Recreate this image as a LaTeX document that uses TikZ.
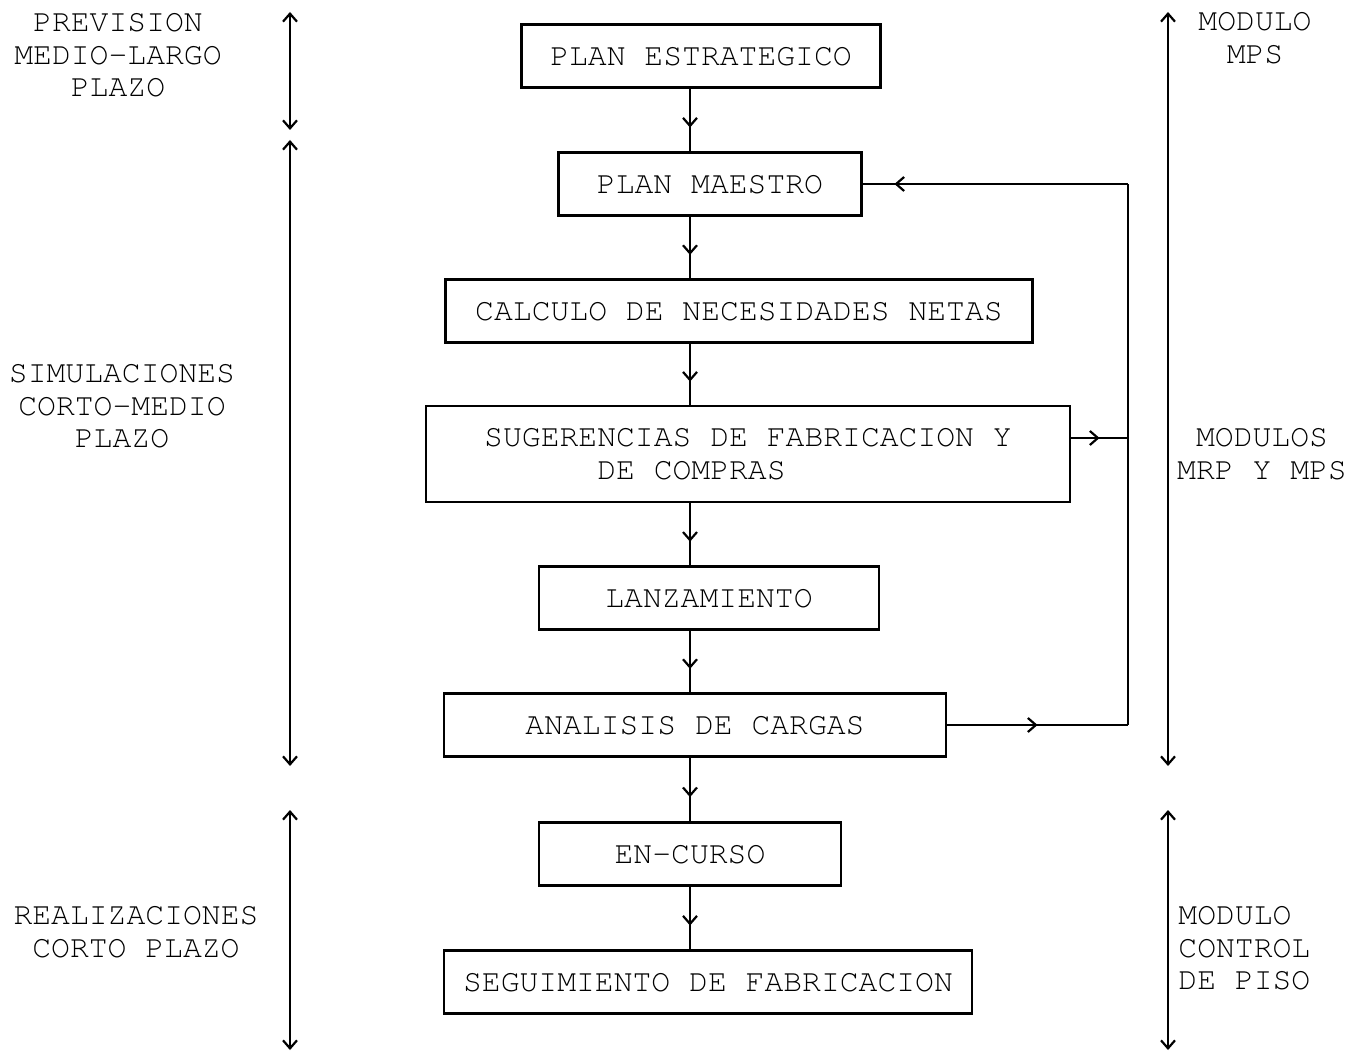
\documentclass[tikz,border=0pt]{standalone}
\usepackage[T1]{fontenc}
\usepackage{courier}
\usetikzlibrary{arrows.meta,decorations.markings}

\tikzset{
	punta/.tip={Straight Barb[length=4pt,width=7pt,line width=1.1pt]},
	letra/.style={font=\ttfamily\fontsize{15.7}{16.2}\selectfont},
	caja/.style={draw, letra, line width=1.1pt, inner sep=0pt, minimum height=31.5pt},
	rotulo/.style={letra, align=center, inner sep=0pt},
	linea/.style={line width=1.1pt},
	flujo/.style={linea, postaction={decorate},
		decoration={markings, mark=at position #1 with {\arrow{punta}}}},
	flujo/.default=0.62,
	tramo/.style={linea, punta-punta}
}

\begin{document}
\begin{tikzpicture}[x=0.5pt, y=-0.5pt]
	\useasboundingbox (0,0) rectangle (1359,1052);

	\node[caja, minimum width=179.5pt] (est) at (701,56) {PLAN ESTRATEGICO};
	\node[caja, minimum width=151.5pt] (mae) at (710,184) {PLAN MAESTRO};
	\node[caja, minimum width=293.5pt] (calc) at (739,311) {CALCULO DE NECESIDADES NETAS};
	\node[caja, minimum width=322pt, minimum height=48pt, align=left] (sug) at (748,454)
		{SUGERENCIAS DE FABRICACION Y\\\phantom{SUGERE}DE COMPRAS};
	\node[caja, minimum width=170pt] (lanz) at (709,598) {LANZAMIENTO};
	\node[caja, minimum width=251pt] (anal) at (695,725) {ANALISIS DE CARGAS};
	\node[caja, minimum width=151pt] (curso) at (690,854) {EN-CURSO};
	\node[caja, minimum width=264pt] (seg) at (708,982) {SEGUIMIENTO DE FABRICACION};

	\coordinate (eje) at (690,0);
	\foreach \a/\b in {est/mae, mae/calc, calc/sug, sug/lanz, lanz/anal, anal/curso, curso/seg}
		\draw[flujo] (\a.south -| eje) to (\b.north -| eje);

	% lazo de vuelta al plan maestro
	\coordinate (ret) at (1128,184);
	\draw[flujo=0.5] ([yshift=8pt]sug.east) to ([yshift=8pt]sug.east -| ret);
	\draw[flujo=0.5] (anal.east) to (anal.east -| ret);
	\draw[linea] (anal.east -| ret) to (ret);
	\draw[flujo=0.88] (ret) to (mae.east);

	% horizontes a la izquierda
	\coordinate (pi1) at (290,12);
	\coordinate (pi2) at (290,130);
	\coordinate (si1) at (290,140);
	\coordinate (si2) at (290,766);
	\coordinate (ri1) at (290,810);
	\coordinate (ri2) at (290,1050);
	\draw[tramo] (pi1) to (pi2);
	\draw[tramo] (si1) to (si2);
	\draw[tramo] (ri1) to (ri2);

	\node[rotulo] (prev) at (118,55) {PREVISION\\MEDIO-LARGO\\PLAZO};
	\node[rotulo] (sim) at (122,406) {SIMULACIONES\\CORTO-MEDIO\\PLAZO};
	\node[rotulo] (real) at (136,932) {REALIZACIONES\\CORTO PLAZO};

	% modulos a la derecha
	\coordinate (md1) at (1168,12);
	\coordinate (md2) at (1168,766);
	\coordinate (cd1) at (1168,810);
	\coordinate (cd2) at (1168,1050);
	\draw[tramo] (md1) to (md2);
	\draw[tramo] (cd1) to (cd2);

	\node[rotulo] (mps) at (1255,38) {MODULO\\MPS};
	\node[rotulo] (mrp) at (1262,454) {MODULOS\\MRP Y MPS};
	\node[rotulo, align=left, anchor=west] (piso) at (1178,948) {MODULO\\CONTROL\\DE PISO};
\end{tikzpicture}
\end{document}
